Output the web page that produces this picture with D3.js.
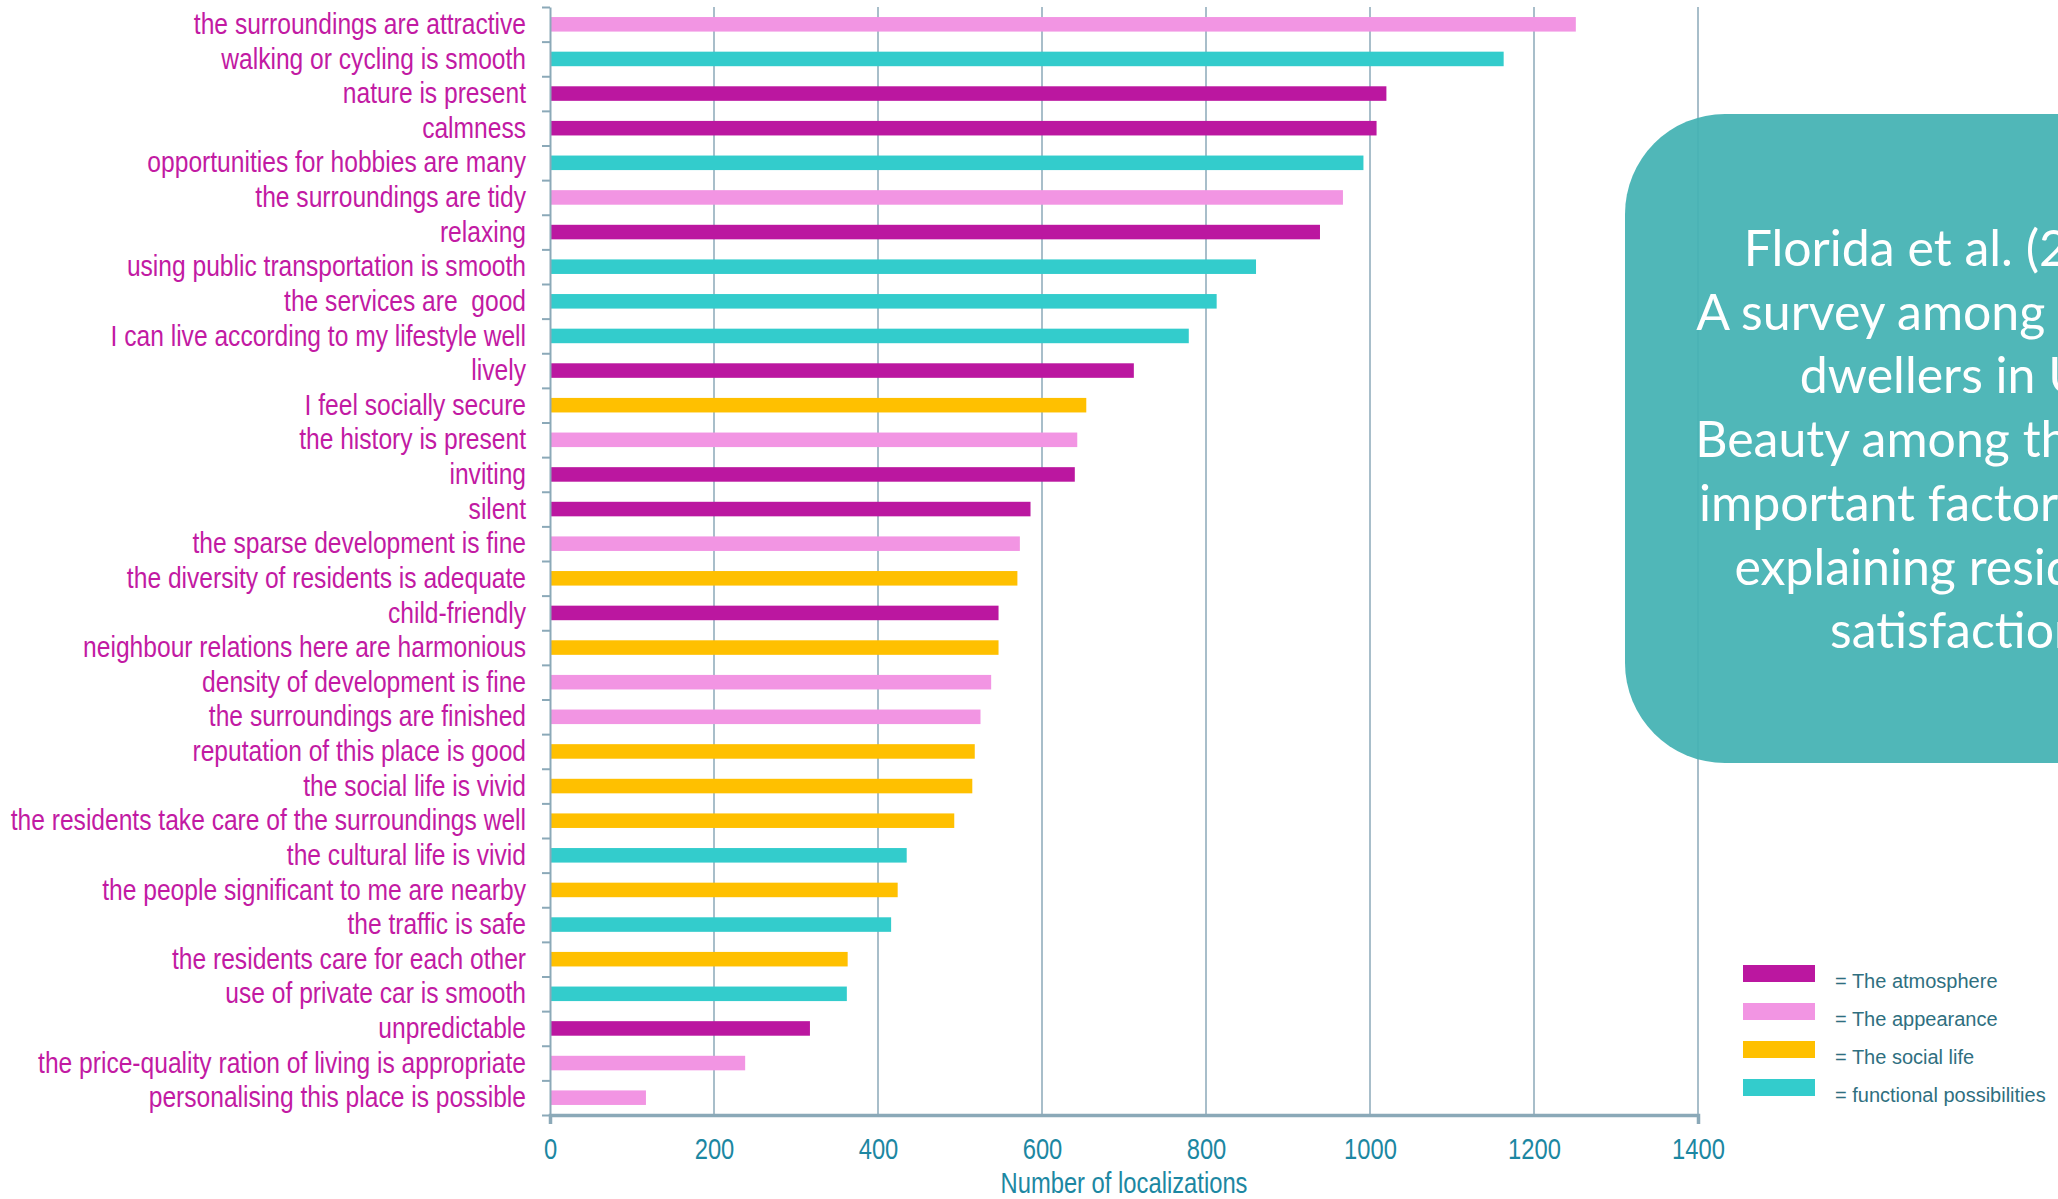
<!DOCTYPE html>
<meta charset="utf-8">
<title>Localizations by factor</title>
<script src="https://d3js.org/d3.v7.min.js"></script>
<style>
body {
	margin: 0;
	background: #fff;
}
</style>
<body>
<script>
// Categories, top to bottom
const categories = [
	'the surroundings are attractive',
	'walking or cycling is smooth',
	'nature is present',
	'calmness',
	'opportunities for hobbies are many',
	'the surroundings are tidy',
	'relaxing',
	'using public transportation is smooth',
	'the services are  good',
	'I can live according to my lifestyle well',
	'lively',
	'I feel socially secure',
	'the history is present',
	'inviting',
	'silent',
	'the sparse development is fine',
	'the diversity of residents is adequate',
	'child-friendly',
	'neighbour relations here are harmonious',
	'density of development is fine',
	'the surroundings are finished',
	'reputation of this place is good',
	'the social life is vivid',
	'the residents take care of the surroundings well',
	'the cultural life is vivid',
	'the people significant to me are nearby',
	'the traffic is safe',
	'the residents care for each other',
	'use of private car is smooth',
	'unpredictable',
	'the price-quality ration of living is appropriate',
	'personalising this place is possible',
];
const values = [
	1251, 1163, 1020, 1008, 992, 967, 939, 861, 813, 779, 712,
	654, 643, 640, 586, 573, 570, 547, 547, 538, 525, 518,
	515, 493, 435, 424, 416, 363, 362, 317, 238, 117,
];
// group index of each category: 0 atmosphere, 1 appearance, 2 social life, 3 functional
const groupOf = [
	1, 3, 0, 0, 3, 1, 0, 3, 3, 3, 0,
	2, 1, 0, 0, 1, 2, 0, 2, 1, 1, 2,
	2, 2, 3, 2, 3, 2, 3, 0, 1, 1,
];
const groupNames = [
	'= The atmosphere',
	'= The appearance',
	'= The social life',
	'= functional possibilities',
];
const groupColors = ['#bb17a0', '#f295e3', '#ffc000', '#33cccc'];
const xTicks = [0, 200, 400, 600, 800, 1000, 1200, 1400];
const noteLines = [
	'Florida et al. (2011)',
	'A survey among 27 000',
	'dwellers in US',
	'Beauty among the most',
	'important factors when',
	'explaining residents\'',
	'satisfaction',
];

const width = 2058;
const height = 1199;
const margin = {top: 7, left: 550, right: 360, bottom: 84};
const axisColor = '#8ba9b8';
const labelColor = '#c21aa3';
const tickColor = '#1c87a2';
// narrow look: Arial metrics squeezed horizontally
const narrowFont = '"Liberation Sans", Arial, sans-serif';
const squeeze = 0.82;

const data = categories.map((name, i) => ({ name, value: values[i], group: groupOf[i] }));

const svg = d3.select('body')
	.append('svg')
		.attr('width', width)
		.attr('height', height);

const x = d3.scaleLinear()
	.domain([0, 1400])
	.range([margin.left, width - margin.right]);
const y = d3.scaleBand()
	.domain(categories)
	.range([margin.top, height - margin.bottom])
	.paddingInner(0.58)
	.paddingOuter(0.29);
// band boundaries, for the small ticks of the left axis
const yEdge = d3.scaleLinear()
	.domain([0, categories.length])
	.range([margin.top, height - margin.bottom]);
const bottom = height - margin.bottom;

// Vertical grid lines
svg.append('g')
	.selectAll('line')
	.data(xTicks.slice(1))
	.join('line')
		.attr('x1', d => x(d))
		.attr('x2', d => x(d))
		.attr('y1', margin.top)
		.attr('y2', bottom)
		.attr('stroke', axisColor)
		.attr('stroke-width', 1.5);

// Bars
svg.append('g')
	.selectAll('rect')
	.data(data)
	.join('rect')
		.attr('x', x(0))
		.attr('y', d => y(d.name))
		.attr('width', d => x(d.value) - x(0))
		.attr('height', y.bandwidth())
		.attr('fill', d => groupColors[d.group]);

// Left axis: tick marks between categories
const leftTicks = svg.append('g')
	.attr('transform', `translate(${x(0)},0)`)
	.call(d3.axisLeft(yEdge).ticks(categories.length).tickFormat('').tickSizeInner(8).tickSizeOuter(0));
leftTicks.selectAll('line, path').attr('stroke', axisColor).attr('stroke-width', 2);

// Left axis labels
const leftLabels = svg.append('g')
	.attr('transform', `translate(${x(0)},0)`)
	.call(d3.axisLeft(y).tickSize(0).tickPadding(24));
leftLabels.select('.domain').remove();
leftLabels.selectAll('text')
	.attr('x', -24 / squeeze)
	.attr('transform', `scale(${squeeze},1)`)
	.attr('font-family', narrowFont)
	.attr('font-size', 30)
	.attr('fill', labelColor)
	.style('white-space', 'pre');

// Bottom axis, end ticks only
const bottomAxis = svg.append('g')
	.attr('transform', `translate(0,${bottom})`)
	.call(d3.axisBottom(x).tickValues(xTicks).tickFormat(d => d).tickSizeInner(0).tickSizeOuter(9).tickPadding(23));
bottomAxis.select('.domain').attr('stroke', axisColor).attr('stroke-width', 3.5);
bottomAxis.selectAll('.tick line').remove();
bottomAxis.selectAll('text')
	.attr('transform', `scale(${squeeze},1)`)
	.attr('font-family', narrowFont)
	.attr('font-size', 29)
	.attr('fill', tickColor);

svg.append('g')
	.attr('transform', `translate(${(x(0) + x(1400)) / 2},1193) scale(${squeeze},1)`)
	.append('text')
		.attr('text-anchor', 'middle')
		.attr('font-family', narrowFont)
		.attr('font-size', 29)
		.attr('fill', tickColor)
		.text('Number of localizations');

// Note box (runs past the right edge)
const note = svg.append('g');
note.append('rect')
	.attr('x', 1625)
	.attr('y', 114)
	.attr('width', 700)
	.attr('height', 649)
	.attr('rx', 100)
	.attr('fill', '#45b3b4')
	.attr('fill-opacity', 0.94);
note.append('text')
	.attr('text-anchor', 'middle')
	.attr('font-family', 'Lato, "Open Sans", sans-serif')
	.attr('font-size', 50)
	.attr('fill', '#fff')
	.selectAll('tspan')
	.data(noteLines)
	.join('tspan')
		.attr('x', 1956)
		.attr('y', (d, i) => 266 + i * 63.7)
		.text(d => d);

// Legend
const legend = svg.append('g')
	.selectAll('g')
	.data(groupNames)
	.join('g')
		.attr('transform', (d, i) => `translate(1743,${965 + i * 38})`);
legend.append('rect')
	.attr('width', 72)
	.attr('height', 17)
	.attr('fill', (d, i) => groupColors[i]);
legend.append('text')
	.attr('x', 92)
	.attr('y', 23)
	.attr('font-family', '"Liberation Sans", Arial, sans-serif')
	.attr('font-size', 20)
	.attr('fill', '#2f6f80')
	.text(d => d);
</script>
</body>
